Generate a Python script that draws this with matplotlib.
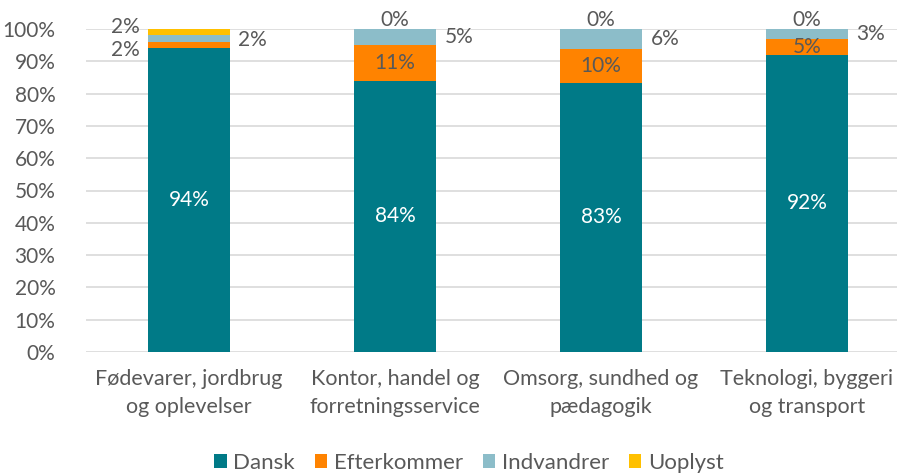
import matplotlib.pyplot as plt
import numpy as np

# -----------------------------
# Data
# -----------------------------
categories = ["Fødevarer, jordbrug\nog oplevelser",
              "Kontor, handel og\nforretningsservice",
              "Omsorg, sundhed og\npædagogik",
              "Teknologi, byggeri\nog transport"]
series_names = ["Dansk", "Efterkommer", "Indvandrer", "Uoplyst"]
dansk = [94, 84, 83.4, 92]
efterkommer = [2, 11, 10.4, 5]
indvandrer = [2, 5, 6.2, 3]
uoplyst = [2, 0, 0, 0]
colors = ["#007A87", "#FF8300", "#8CBDC9", "#FFC000"]

# -----------------------------
# Style
# -----------------------------
plt.rcParams['font.family'] = ['Lato', 'DejaVu Sans']
txt = "#595959"
fs = 15

fig = plt.figure(figsize=(8.97, 4.76), dpi=100)
ax = fig.add_axes([86 / 897, 124 / 476, 824 / 897, 323 / 476])

x = np.arange(len(categories))
w = 0.4
values = [dansk, efterkommer, indvandrer, uoplyst]
bottom = np.zeros(len(categories))
for name, vals, c in zip(series_names, values, colors):
    ax.bar(x, vals, w, bottom=bottom, color=c, label=name, zorder=3)
    bottom += np.array(vals)

ax.set_xlim(-0.5, 3.5)
ax.set_ylim(0, 100)
ax.set_yticks(range(0, 101, 10))
ax.set_yticklabels([f"{v}%" for v in range(0, 101, 10)])
ax.set_xticks(x)
ax.set_xticklabels(categories, linespacing=1.5, fontsize=15.5)
ax.tick_params(length=0, colors=txt)
ax.tick_params(axis='y', pad=22, labelsize=fs)
ax.tick_params(axis='x', pad=12)
ax.grid(axis='y', color="#D9D9D9", linewidth=1.2, zorder=0)
for s in ax.spines.values():
    s.set_visible(False)

# -----------------------------
# Data labels
# -----------------------------
def pct(v):
    return f"{round(v):.0f}%"

dx = w / 2 + 0.04
for i in range(len(categories)):
    d, e, ind, u = dansk[i], efterkommer[i], indvandrer[i], uoplyst[i]
    ax.text(i, d / 2, pct(d), ha='center', va='center', color='white', fontsize=fs)
    if i == 0:
        ax.text(i - dx, d - 0.5, pct(e), ha='right', va='center', color=txt, fontsize=fs)
        ax.text(i + dx, d + e + 0.5, pct(ind), ha='left', va='center', color=txt, fontsize=fs)
        ax.text(i - dx, 100 + 0.5, pct(u), ha='right', va='center', color=txt, fontsize=fs)
    else:
        ax.text(i, d + e / 2, pct(e), ha='center', va='center', color=txt, fontsize=fs)
        ax.text(i + dx, d + e + ind / 2, pct(ind), ha='left', va='center', color=txt, fontsize=fs)
        ax.text(i, d + e + ind + u + 2.8, pct(u), ha='center', va='center', color=txt, fontsize=fs)

leg = fig.legend(loc='center', bbox_to_anchor=(469 / 897, 1 - 463 / 476), ncol=4,
                 frameon=False, fontsize=16, handlelength=0.55, handleheight=0.55,
                 handletextpad=0.3, columnspacing=0.9)
for t in leg.get_texts():
    t.set_color(txt)

plt.savefig("out.png", dpi=100)
plt.close()
